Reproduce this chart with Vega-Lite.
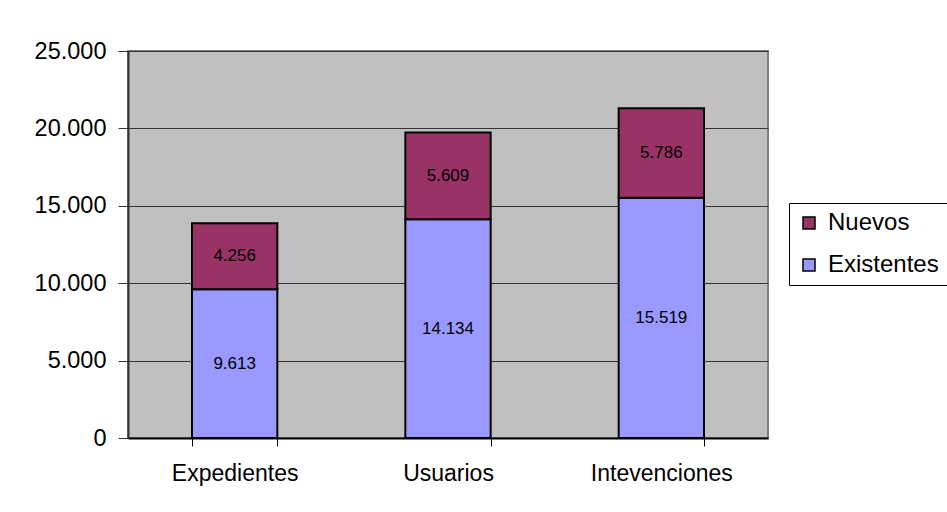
{
  "$schema": "https://vega.github.io/schema/vega-lite/v6.json",
  "width": 640,
  "height": 387,
  "autosize": {"type": "none"},
  "padding": {"left": 128, "top": 51, "right": 179, "bottom": 74},
  "background": "white",
  "config": {
    "font": "Liberation Sans",
    "locale": {"number": {"decimal": ",", "thousands": ".", "grouping": [3], "currency": ["", " €"]}},
    "view": {"fill": "#C0C0C0", "stroke": "#808080", "strokeWidth": 2}
  },
  "data": {
    "values": [
      {"categoria": "Expedientes", "serie": "Existentes", "valor": 9613, "orden": 1},
      {"categoria": "Expedientes", "serie": "Nuevos", "valor": 4256, "orden": 2},
      {"categoria": "Usuarios", "serie": "Existentes", "valor": 14134, "orden": 1},
      {"categoria": "Usuarios", "serie": "Nuevos", "valor": 5609, "orden": 2},
      {"categoria": "Intevenciones", "serie": "Existentes", "valor": 15519, "orden": 1},
      {"categoria": "Intevenciones", "serie": "Nuevos", "valor": 5786, "orden": 2}
    ]
  },
  "encoding": {
    "x": {
      "field": "categoria",
      "type": "nominal",
      "sort": ["Expedientes", "Usuarios", "Intevenciones"],
      "scale": {"paddingInner": 0.6, "paddingOuter": 0.3},
      "axis": {
        "title": null,
        "labelAngle": 0,
        "labelFontSize": 23,
        "labelColor": "#000",
        "labelPadding": 16,
        "tickBand": "extent",
        "tickSize": 8,
        "tickColor": "#000",
        "domainColor": "#000",
        "domainWidth": 2
      }
    },
    "y": {
      "field": "valor",
      "type": "quantitative",
      "stack": "zero",
      "scale": {"domain": [0, 25000]},
      "axis": {
        "title": null,
        "values": [0, 5000, 10000, 15000, 20000, 25000],
        "format": ",d",
        "labelFontSize": 23.5,
        "labelColor": "#000",
        "labelPadding": 12,
        "tickSize": 10,
        "tickColor": "#333",
        "domainColor": "#333",
        "domainWidth": 2,
        "grid": true,
        "gridColor": "#333",
        "gridWidth": 1
      }
    },
    "order": {"field": "orden", "type": "quantitative"}
  },
  "layer": [
    {
      "mark": {"type": "bar", "stroke": "#000", "strokeWidth": 2},
      "encoding": {
        "color": {
          "field": "serie",
          "type": "nominal",
          "scale": {"domain": ["Nuevos", "Existentes"], "range": ["#993366", "#9999FF"]},
          "legend": {
            "title": null,
            "orient": "none",
            "legendX": 661,
            "legendY": 152,
            "symbolType": "square",
            "symbolSize": 144,
            "symbolStrokeColor": "#000",
            "symbolStrokeWidth": 1.5,
            "symbolOpacity": 1,
            "labelFontSize": 24,
            "labelColor": "#000",
            "labelOffset": 7,
            "rowPadding": 18,
            "padding": 8,
            "strokeColor": "#000",
            "fillColor": "white"
          }
        }
      }
    },
    {
      "mark": {"type": "text", "fontSize": 17, "color": "#000"},
      "encoding": {
        "y": {"field": "valor", "type": "quantitative", "stack": "zero", "bandPosition": 0.5},
        "text": {"field": "valor", "type": "quantitative", "format": ",d"}
      }
    }
  ]
}
